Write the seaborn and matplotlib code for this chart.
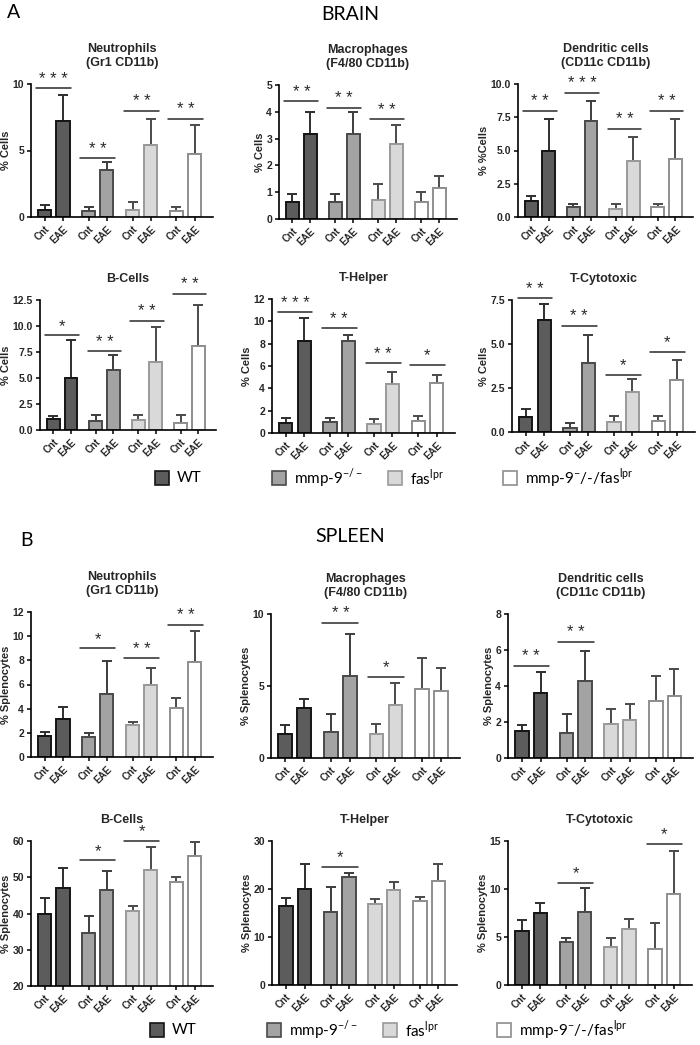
import numpy as np
import pandas as pd
import matplotlib
matplotlib.use("Agg")
import matplotlib.pyplot as plt
import seaborn as sns
from matplotlib.patches import Rectangle

# ---- data ----
genotypes = ["WT", "mmp-9-/-", "fas lpr", "mmp-9-/-/fas lpr"]
conditions = ["Cnt", "EAE"]

# brain
neut_brain_mean = [0.55, 7.2, 0.45, 3.5, 0.55, 5.4, 0.45, 4.7]
neut_brain_sd = [0.35, 2.0, 0.3, 0.6, 0.55, 2.0, 0.3, 2.2]
neut_brain_sig = ["***", "**", "**", "**"]
neut_brain_sig_y = [9.7, 4.4, 8.0, 7.4]

macro_brain_mean = [0.62, 3.18, 0.62, 3.18, 0.7, 2.8, 0.62, 1.15]
macro_brain_sd = [0.33, 0.82, 0.33, 0.82, 0.6, 0.7, 0.4, 0.45]
macro_brain_sig = ["**", "**", "**", None]
macro_brain_sig_y = [4.4, 4.16, 3.73, None]

dend_brain_mean = [1.2, 4.95, 0.75, 7.2, 0.6, 4.2, 0.75, 4.35]
dend_brain_sd = [0.35, 2.4, 0.25, 1.55, 0.4, 1.85, 0.25, 3.05]
dend_brain_sig = ["**", "***", "**", "**"]
dend_brain_sig_y = [8.0, 9.35, 6.63, 8.0]

bcell_brain_mean = [1.1, 5.0, 0.85, 5.8, 0.95, 6.55, 0.7, 8.1]
bcell_brain_sd = [0.25, 3.7, 0.6, 1.45, 0.5, 3.35, 0.75, 3.9]
bcell_brain_sig = ["*", "**", "**", "**"]
bcell_brain_sig_y = [9.1, 7.6, 10.5, 13.1]

thelp_brain_mean = [0.9, 8.27, 1.0, 8.27, 0.8, 4.4, 1.05, 4.48]
thelp_brain_sd = [0.4, 2.03, 0.3, 0.53, 0.45, 1.1, 0.45, 0.72]
thelp_brain_sig = ["***", "**", "**", "*"]
thelp_brain_sig_y = [10.8, 9.4, 6.27, 6.1]

tcyt_brain_mean = [0.83, 6.36, 0.25, 3.94, 0.59, 2.29, 0.64, 2.94]
tcyt_brain_sd = [0.46, 0.91, 0.25, 1.57, 0.34, 0.74, 0.29, 1.17]
tcyt_brain_sig = ["**", "**", "*", "*"]
tcyt_brain_sig_y = [7.6, 6.04, 3.24, 4.56]

# spleen
neut_spleen_mean = [1.75, 3.12, 1.68, 5.19, 2.62, 5.96, 4.05, 7.9]
neut_spleen_sd = [0.35, 0.98, 0.27, 2.78, 0.3, 1.44, 0.83, 2.5]
neut_spleen_sig = [None, "*", "**", "**"]
neut_spleen_sig_y = [None, 9.0, 8.2, 10.95]

macro_spleen_mean = [1.67, 3.46, 1.79, 5.68, 1.65, 3.71, 4.78, 4.62]
macro_spleen_sd = [0.6, 0.67, 1.27, 2.95, 0.69, 1.51, 2.18, 1.6]
macro_spleen_sig = [None, "**", "*", None]
macro_spleen_sig_y = [None, 9.4, 5.64, None]

dend_spleen_mean = [1.5, 3.63, 1.4, 4.28, 1.88, 2.1, 3.18, 3.46]
dend_spleen_sd = [0.32, 1.17, 1.04, 1.64, 0.82, 0.9, 1.4, 1.47]
dend_spleen_sig = ["**", "**", None, None]
dend_spleen_sig_y = [5.12, 6.47, None, None]

bcell_spleen_mean = [40.0, 47.05, 34.5, 46.5, 40.7, 52.0, 48.7, 56.0]
bcell_spleen_sd = [4.3, 5.45, 4.7, 5.2, 1.5, 6.3, 1.3, 3.6]
bcell_spleen_sig = [None, "*", "*", None]
bcell_spleen_sig_y = [None, 54.7, 60.0, None]

thelp_spleen_mean = [16.5, 20.1, 15.3, 22.4, 16.9, 19.8, 17.6, 21.6]
thelp_spleen_sd = [1.55, 5.1, 5.05, 1.0, 1.0, 1.7, 0.7, 3.7]
thelp_spleen_sig = [None, "*", None, None]
thelp_spleen_sig_y = [None, 24.6, None, None]

tcyt_spleen_mean = [5.66, 7.53, 4.51, 7.64, 3.96, 5.83, 3.75, 9.51]
tcyt_spleen_sd = [1.08, 1.05, 0.42, 2.5, 0.97, 1.01, 2.71, 4.41]
tcyt_spleen_sig = [None, "*", None, "*"]
tcyt_spleen_sig_y = [None, 10.63, None, 14.7]

legend_labels = ["WT", r"mmp-9$^{\mathrm{-/-}}$", r"fas$^{\mathrm{lpr}}$",
                 r"mmp-9$^{\mathrm{-}}$/-/fas$^{\mathrm{lpr}}$"]

# ---- style ----
fill_colors = ["#5c5c5c", "#a3a3a3", "#d9d9d9", "#ffffff"]
edge_colors = ["#151515", "#4a4a4a", "#9a9a9a", "#8e8e8e"]
err_colors = ["#2e2e2e", "#3c3c3c", "#4a4a4a", "#4a4a4a"]

sns.set_style("ticks")
plt.rcParams["font.family"] = ["Liberation Sans", "DejaVu Sans"]
plt.rcParams["mathtext.fontset"] = "custom"
plt.rcParams["mathtext.rm"] = "Lato"

W, H = 700, 1045
fig = plt.figure(figsize=(7, 10.45), dpi=100)


def box(l, t, r, b):
    return [l / W, 1 - b / H, (r - l) / W, (b - t) / H]


bar_pos = [2.4 * g + k for g in range(4) for k in (0, 1)]


def draw_panel(rect, mean, sd, sig, sig_y, ylim, yticks, fmt, ylabel, title):
    ax = fig.add_axes(box(*rect))
    df = pd.DataFrame({
        "pos": bar_pos,
        "val": mean,
        "geno": np.repeat(genotypes, 2),
        "cond": conditions * 4,
    })
    # error bars first so the bars hide the lower half
    for g, geno in enumerate(genotypes):
        sub = df[df.geno == geno]
        ax.errorbar(sub.pos, sub.val, yerr=[np.zeros(len(sub)), np.array(sd)[sub.index]],
                    fmt="none", ecolor=err_colors[g], elinewidth=1.4,
                    capsize=3.5, capthick=1.4, zorder=1)
    sns.barplot(data=df, x="pos", y="val", hue="geno", palette=fill_colors,
                native_scale=True, width=0.72, dodge=False, errorbar=None,
                legend=False, ax=ax, linewidth=1.4, zorder=2)
    for patch in ax.patches:
        fc = matplotlib.colors.to_hex(patch.get_facecolor())
        idx = [matplotlib.colors.to_hex(c) for c in fill_colors].index(fc)
        patch.set_edgecolor(edge_colors[idx])

    # significance brackets
    for g in range(4):
        if sig[g] is None:
            continue
        c = 2.4 * g + 0.5
        ax.plot([c - 0.95, c + 0.95], [sig_y[g], sig_y[g]], color="#2a2a2a",
                lw=1.1, clip_on=False)
        ax.annotate(" ".join(sig[g]), (c, sig_y[g]), xytext=(0, 1),
                    textcoords="offset points", ha="center", va="bottom",
                    fontsize=12, color="#2a2a2a", annotation_clip=False)

    ax.set_xlim(-0.75, 9.2)
    ax.set_ylim(*ylim)
    ax.set_yticks(yticks)
    ax.set_yticklabels([fmt.format(v) for v in yticks], fontsize=7.5, fontweight="bold")
    ax.set_xticks(bar_pos)
    ax.set_xticklabels(df.cond, rotation=45, ha="right", rotation_mode="anchor",
                       fontsize=7, fontweight="bold")
    ax.tick_params(axis="both", length=3, width=1.1, color="black", pad=2)
    ax.set_xlabel("")
    ax.set_ylabel(ylabel, fontsize=8, fontweight="bold", labelpad=1)
    ax.set_title(title, fontsize=9, fontweight="bold", pad=13, linespacing=1.25)
    sns.despine(ax=ax)
    for s in ("left", "bottom"):
        ax.spines[s].set_linewidth(1.2)
        ax.spines[s].set_color("black")
    return ax


# ---- brain ----
draw_panel((31, 84, 213, 217), neut_brain_mean, neut_brain_sd, neut_brain_sig, neut_brain_sig_y,
           (0, 10), [0, 5, 10], "{:.0f}", "% Cells", "Neutrophils\n(Gr1 CD11b)")
draw_panel((279, 85, 457, 219), macro_brain_mean, macro_brain_sd, macro_brain_sig, macro_brain_sig_y,
           (0, 5), [0, 1, 2, 3, 4, 5], "{:.0f}", "% Cells", "Macrophages\n(F4/80 CD11b)")
draw_panel((518, 84, 693, 217), dend_brain_mean, dend_brain_sd, dend_brain_sig, dend_brain_sig_y,
           (0, 10), [0, 2.5, 5, 7.5, 10], "{:.1f}", "% %Cells", "Dendritic cells\n(CD11c CD11b)")
draw_panel((40, 300, 216, 430), bcell_brain_mean, bcell_brain_sd, bcell_brain_sig, bcell_brain_sig_y,
           (0, 12.5), [0, 2.5, 5, 7.5, 10, 12.5], "{:.1f}", "% Cells", "B-Cells")
draw_panel((272, 299, 455, 433), thelp_brain_mean, thelp_brain_sd, thelp_brain_sig, thelp_brain_sig_y,
           (0, 12), [0, 2, 4, 6, 8, 10, 12], "{:.0f}", "% Cells", "T-Helper")
draw_panel((512, 300, 695, 432), tcyt_brain_mean, tcyt_brain_sd, tcyt_brain_sig, tcyt_brain_sig_y,
           (0, 7.5), [0, 2.5, 5, 7.5], "{:.1f}", "% Cells", "T-Cytotoxic")

# ---- spleen ----
draw_panel((31, 612, 213, 757), neut_spleen_mean, neut_spleen_sd, neut_spleen_sig, neut_spleen_sig_y,
           (0, 12), [0, 2, 4, 6, 8, 10, 12], "{:.0f}", "% Splenocytes", "Neutrophils\n(Gr1 CD11b)")
draw_panel((271, 614, 460, 758), macro_spleen_mean, macro_spleen_sd, macro_spleen_sig, macro_spleen_sig_y,
           (0, 10), [0, 5, 10], "{:.0f}", "% Splenocytes", "Macrophages\n(F4/80 CD11b)")
draw_panel((508, 614, 693, 758), dend_spleen_mean, dend_spleen_sd, dend_spleen_sig, dend_spleen_sig_y,
           (0, 8), [0, 2, 4, 6, 8], "{:.0f}", "% Splenocytes", "Dendritic cells\n(CD11c CD11b)")
draw_panel((31, 841, 213, 986), bcell_spleen_mean, bcell_spleen_sd, bcell_spleen_sig, bcell_spleen_sig_y,
           (20, 60), [20, 30, 40, 50, 60], "{:.0f}", "% Splenocytes", "B-Cells")
draw_panel((272, 841, 457, 985), thelp_spleen_mean, thelp_spleen_sd, thelp_spleen_sig, thelp_spleen_sig_y,
           (0, 30), [0, 10, 20, 30], "{:.0f}", "% Splenocytes", "T-Helper")
draw_panel((508, 841, 692, 985), tcyt_spleen_mean, tcyt_spleen_sd, tcyt_spleen_sig, tcyt_spleen_sig_y,
           (0, 15), [0, 5, 10, 15], "{:.0f}", "% Splenocytes", "T-Cytotoxic")

# ---- headings ----
head = dict(family=["Lato", "DejaVu Sans"], color="black")
fig.text(14 / W, 1 - 12 / H, "A", fontsize=14, ha="center", va="center", **head)
fig.text(350 / W, 1 - 15 / H, "BRAIN", fontsize=14, ha="center", va="center", **head)
fig.text(27 / W, 1 - 541 / H, "B", fontsize=14, ha="center", va="center", **head)
fig.text(350 / W, 1 - 537 / H, "SPLEEN", fontsize=14, ha="center", va="center", **head)


# ---- legends ----
def draw_legend(y, xs):
    for i, x in enumerate(xs):
        fig.add_artist(Rectangle((x / W, 1 - (y + 7) / H), 14 / W, 14 / H,
                                 transform=fig.transFigure, facecolor=fill_colors[i],
                                 edgecolor=edge_colors[i], lw=1.2))
        fig.text((x + 22) / W, 1 - y / H, legend_labels[i], fontsize=11,
                 ha="left", va="center", **head)


draw_legend(478, [155, 272, 388, 503])
draw_legend(1030, [150, 267, 383, 497])

fig.savefig("out.png", dpi=100)
